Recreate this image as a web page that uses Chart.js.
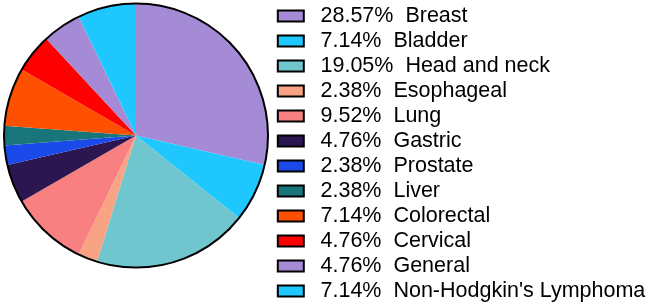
<!DOCTYPE html>
<html>
<head>
<meta charset="utf-8">
<script src="https://cdn.jsdelivr.net/npm/chart.js@4/dist/chart.umd.min.js"></script>
<style>
  html, body { margin: 0; padding: 0; background: #fff; }
  #wrap { width: 650px; height: 307px; position: relative; }
</style>
</head>
<body>
<div id="wrap"><canvas id="c"></canvas></div>
<script>
const categories = ["Breast", "Bladder", "Head and neck", "Esophageal", "Lung", "Gastric",
  "Prostate", "Liver", "Colorectal", "Cervical", "General", "Non-Hodgkin's Lymphoma"];
const percentages = [28.57, 7.14, 19.05, 2.38, 9.52, 4.76, 2.38, 2.38, 7.14, 4.76, 4.76, 7.14];
const colors = ["#A58BD5", "#1EC8FF", "#70C6CF", "#F8A384", "#F98081", "#2B1650",
  "#1A4AEA", "#18767A", "#FF5000", "#FF0000", "#A58BD5", "#1EC8FF"];

const pieArea = { left: 4, right: 268, top: 3.6, bottom: 267.6 };
const legendArea = { left: 274.3, right: 650 };

const layoutPlugin = {
  id: 'pieArea',
  afterLayout(chart) {
    const a = chart.chartArea;
    a.left = pieArea.left; a.right = pieArea.right;
    a.top = pieArea.top; a.bottom = pieArea.bottom;
    a.width = a.right - a.left; a.height = a.bottom - a.top;
    const lg = chart.legend;
    if (lg) {
      lg.left = legendArea.left; lg.right = legendArea.right;
      lg.width = lg.right - lg.left;
    }
  }
};

const outlinePlugin = {
  id: 'outline',
  afterDatasetsDraw(chart) {
    const arc = chart.getDatasetMeta(0).data[0];
    if (!arc) return;
    const ctx = chart.ctx;
    ctx.save();
    ctx.beginPath();
    ctx.arc(arc.x, arc.y, arc.outerRadius, 0, Math.PI * 2);
    ctx.lineWidth = 2;
    ctx.strokeStyle = '#000';
    ctx.stroke();
    ctx.restore();
  }
};

new Chart(document.getElementById('c'), {
  type: 'pie',
  data: {
    labels: categories,
    datasets: [{
      data: percentages,
      backgroundColor: colors,
      borderWidth: 0
    }]
  },
  options: {
    responsive: true,
    maintainAspectRatio: false,
    animation: false,
    layout: { padding: { left: -120, right: 0, top: 0, bottom: 0 } },
    plugins: {
      tooltip: { enabled: false },
      legend: {
        position: 'right',
        align: 'center',
        labels: {
          boxWidth: 26,
          boxHeight: 11,
          padding: 3.5,
          color: '#000',
          font: { family: '"Liberation Sans", Arial, sans-serif', size: 21.5 },
          generateLabels(chart) {
            return categories.map((name, i) => ({
              text: ' ' + percentages[i].toFixed(2) + '%  ' + name,
              fillStyle: colors[i],
              strokeStyle: '#000',
              lineWidth: 2,
              fontColor: '#000',
              hidden: false,
              index: i
            }));
          }
        }
      }
    }
  },
  plugins: [layoutPlugin, outlinePlugin]
});
</script>
</body>
</html>
